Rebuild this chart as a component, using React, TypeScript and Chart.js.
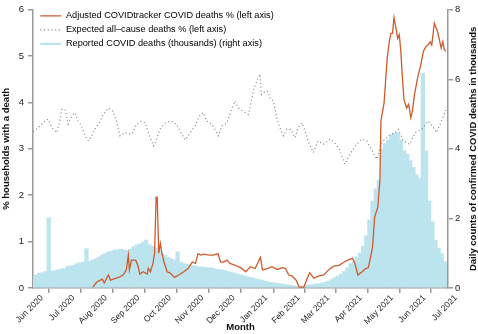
import { useEffect, useRef } from "react";
import { Chart, registerables } from "chart.js";

Chart.register(...registerables);

// x values are days since 1 June 2020
const monthTickDays = [0, 30, 61, 92, 122, 153, 183, 214, 245, 273, 304, 334, 365, 395];
const monthTickLabels = [
  "Jun 2020", "Jul 2020", "Aug 2020", "Sep 2020", "Oct 2020", "Nov 2020", "Dec 2020",
  "Jan 2021", "Feb 2021", "Mar 2021", "Apr 2021", "May 2021", "Jun 2021", "Jul 2021",
];

// Adjusted COVIDtracker COVID deaths % (left axis)
const redDays = [
  57, 61, 66, 68, 72, 74, 78, 83, 86, 89, 91, 92, 94, 98, 100, 102, 105, 109, 110, 112,
  114.5, 116, 117.5, 118.5, 120, 121.5, 123, 125, 128, 131, 135, 139, 144, 148, 152, 155,
  157.5, 160, 163, 168, 172, 176.5, 179, 182, 185, 188, 193, 198, 203, 207.5, 212, 217,
  219, 223.5, 228, 233, 238, 241, 244, 247, 251, 254, 258.5, 261, 264, 268, 273, 277.5,
  282, 287, 292, 297, 301.5, 305, 307, 310, 314, 317.5, 320, 321.5, 324, 326, 329, 331,
  332, 335, 338, 340, 341.5, 343, 344.5, 346, 348, 349.5, 351, 352.5, 354, 356.5, 358.5,
  360.5, 362, 364, 367, 370, 372.5, 375, 377, 379, 380.5, 383, 386, 387.5, 389.5, 391,
  392.5, 394,
];
const redPct = [
  0.02, 0.13, 0.19, 0.11, 0.28, 0.17, 0.2, 0.24, 0.28, 0.39, 0.71, 0.39, 0.6, 0.6, 0.49, 0.3,
  0.35, 0.3, 0.43, 0.35, 0.53, 0.75, 1.96, 1.96, 0.75, 0.96, 0.75, 0.56, 0.35, 0.32, 0.23,
  0.28, 0.35, 0.42, 0.56, 0.53, 0.74, 0.71, 0.73, 0.71, 0.71, 0.74, 0.56, 0.56, 0.6, 0.53,
  0.49, 0.44, 0.35, 0.46, 0.42, 0.66, 0.39, 0.42, 0.46, 0.4, 0.44, 0.42, 0.28, 0.26, 0.17,
  0.02, 0.02, 0.17, 0.33, 0.21, 0.26, 0.28, 0.39, 0.47, 0.49, 0.56, 0.61, 0.64, 0.54, 0.28,
  0.35, 0.42, 0.44, 0.6, 0.88, 1.53, 1.74, 2.31, 3.6, 3.99, 4.96, 5.31, 5.49, 5.49, 5.83,
  5.64, 5.38, 5.46, 5.1, 4.53, 4.06, 3.88, 3.96, 3.67, 3.81, 4.17, 4.53, 4.81, 5.1, 5.21,
  5.24, 5.31, 5.24, 5.71, 5.53, 5.38, 5.17, 5.31, 5.14, 5.1,
];

// Expected all-cause deaths % (left axis)
const expDays = [
  0, 5, 11.5, 14.5, 18, 22.5, 26, 27.5, 30.5, 33.5, 37, 40, 43, 46.5, 49.5, 53, 56, 59, 64,
  67, 72, 76.5, 80, 83, 88, 94, 99, 103.5, 107, 110, 115, 118, 121, 126, 132, 137, 142,
  145.5, 150, 154.5, 159.5, 162.5, 165.5, 170.5, 174.5, 177, 180, 185, 189.5, 192.5, 196,
  200.5, 205.5, 208.5, 210, 213.5, 216.5, 218, 221.5, 224.5, 226, 229.5, 232.5, 235.5, 239,
  242, 246, 250, 253, 256.5, 259.5, 262.5, 267.5, 272, 277, 283.5, 288, 293, 297.5, 302.5,
  307.5, 313.5, 318.5, 323, 328, 332.5, 339, 345.5, 348.5, 353.5, 359.5, 364.5, 371, 377,
  382, 385, 388.5, 393, 395,
];
const expPct = [
  3.37, 3.46, 3.6, 3.64, 3.46, 3.35, 3.64, 3.85, 3.85, 3.53, 3.71, 3.78, 3.6, 3.49, 3.28,
  3.17, 3.28, 3.42, 3.6, 3.74, 3.88, 3.81, 3.56, 3.28, 3.35, 3.31, 3.53, 3.6, 3.56, 3.35,
  3.06, 3.21, 3.42, 3.56, 3.6, 3.53, 3.31, 3.19, 3.35, 3.49, 3.74, 3.78, 3.6, 3.53, 3.39,
  3.28, 3.49, 3.56, 3.85, 4.03, 3.88, 3.81, 3.74, 4.03, 4.24, 4.46, 4.61, 4.17, 4.24, 4.24,
  4.1, 4.03, 3.67, 3.46, 3.28, 3.42, 3.42, 3.24, 3.46, 3.56, 3.39, 3.17, 2.92, 3.17, 3.1,
  3.21, 3.13, 2.96, 2.67, 2.89, 3.06, 3.21, 3.17, 2.99, 2.78, 3.13, 3.28, 3.35, 3.42, 3.17,
  3.1, 3.35, 3.42, 3.6, 3.46, 3.35, 3.53, 3.78, 3.9,
];

// Reported COVID deaths (thousands) (right axis)
const barDays = [
  0, 3, 6, 9, 12, 15, 18, 21, 24, 27, 30, 33, 36, 39, 42, 45, 48, 51, 54, 57, 60, 63, 66, 69,
  72, 75, 78, 81, 84, 87, 90, 93, 96, 99, 102, 105, 108, 111, 114, 117, 120, 123, 126, 129,
  132, 135, 138, 141, 144, 147, 150, 153, 156, 159, 162, 165, 168, 171, 174, 177, 180, 183,
  186, 189, 192, 195, 198, 201, 204, 207, 210, 213, 216, 219, 222, 225, 228, 231, 234, 237,
  240, 243, 246, 249, 252, 255, 258, 261, 264, 267, 270, 273, 276, 279, 282, 285, 288, 291,
  294, 297, 300, 303, 306, 309, 312, 315, 318, 321, 324, 327, 330, 333, 336, 339, 342, 345,
  348, 351, 354, 357, 360, 363, 366, 369, 372, 375, 378, 381, 384, 387, 390, 393,
];
const barThousands = [
  0.33, 0.38, 0.42, 0.44, 0.47, 2.02, 0.48, 0.5, 0.52, 0.55, 0.56, 0.62, 0.64, 0.66, 0.7,
  0.73, 0.74, 1.13, 0.76, 0.8, 0.84, 0.89, 0.95, 0.99, 1.04, 1.06, 1.09, 1.1, 1.12, 1.1,
  1.08, 1.12, 1.18, 1.24, 1.27, 1.32, 1.38, 1.25, 1.2, 1.15, 1.08, 1.0, 0.94, 0.88, 0.84,
  0.8, 1.04, 0.74, 0.7, 0.68, 0.66, 0.64, 0.63, 0.61, 0.6, 0.59, 0.58, 0.57, 0.55, 0.53,
  0.52, 0.5, 0.47, 0.45, 0.43, 0.4, 0.38, 0.35, 0.33, 0.31, 0.29, 0.26, 0.24, 0.22, 0.19,
  0.17, 0.16, 0.14, 0.13, 0.12, 0.1, 0.09, 0.08, 0.06, 0.04, 0.05, 0.06, 0.08, 0.09, 0.1,
  0.11, 0.12, 0.14, 0.16, 0.2, 0.24, 0.3, 0.34, 0.4, 0.47, 0.58, 0.7, 0.78, 0.88, 1.0, 1.2,
  1.5, 1.95, 2.5, 2.85, 3.1, 4.0, 4.15, 4.25, 4.4, 4.45, 4.47, 4.25, 3.95, 3.85, 3.66, 3.47,
  3.25, 3.15, 6.18, 3.94, 2.5, 1.9, 1.37, 1.15, 0.98, 0.75,
];

const legendLabels = [
  "Adjusted COVIDtracker COVID deaths % (left axis)",
  "Expected all\u2013cause deaths % (left axis)",
  "Reported COVID deaths (thousands) (right axis)",
];
const leftTitle = "% households with a death";
const rightTitle = "Daily counts of confirmed COVID deaths in thousands";
const xTitle = "Month";

const RED = "#cf5a2b";
const GREY = "#808080";
const BLUE = "#bce4ee";
const AXIS = "#9a9a9a";
const FONT = "'Liberation Sans', Arial, Helvetica, sans-serif";

export default function App() {
  const ref = useRef<HTMLCanvasElement>(null);

  useEffect(() => {
    if (!ref.current) return;
    Chart.defaults.font.family = FONT;

    const rightTitlePlugin = {
      id: "rightTitle",
      afterDraw(chart: any) {
        const { ctx, chartArea } = chart;
        ctx.save();
        ctx.translate(473.5, (chartArea.top + chartArea.bottom) / 2);
        ctx.rotate(-Math.PI / 2);
        ctx.font = `bold 9.5px ${FONT}`;
        ctx.fillStyle = "#111";
        ctx.textAlign = "center";
        ctx.textBaseline = "middle";
        ctx.fillText(rightTitle, 0, 0);
        ctx.restore();
      },
    };

    const legendShift = {
      id: "legendShift",
      afterLayout(chart: any) {
        const l = chart.legend;
        if (l) {
          l.left = chart.chartArea.left + 2.5;
          l.top = 6.5;
          if (l.adjustHitBoxes) l.adjustHitBoxes();
        }
      },
    };

    const chart = new Chart(ref.current, {
      type: "bar",
      data: {
        datasets: [
          {
            type: "line",
            label: legendLabels[0],
            data: redDays.map((d, i) => ({ x: d, y: redPct[i] })),
            borderColor: RED,
            borderWidth: 1.3,
            pointRadius: 0,
            tension: 0,
            yAxisID: "y",
            order: 1,
          },
          {
            type: "line",
            label: legendLabels[1],
            data: expDays.map((d, i) => ({ x: d, y: expPct[i] })),
            borderColor: GREY,
            borderWidth: 1.1,
            borderDash: [1.1, 2.6],
            pointRadius: 0,
            tension: 0,
            yAxisID: "y",
            order: 2,
          },
          {
            type: "bar",
            label: legendLabels[2],
            data: barDays.map((d, i) => ({ x: d, y: barThousands[i] })),
            backgroundColor: BLUE,
            borderWidth: 0,
            barThickness: 3.6,
            grouped: false,
            yAxisID: "y1",
            order: 3,
          },
        ] as any,
      },
      options: {
        animation: false,
        responsive: false,
        layout: { padding: { top: 8, left: 0, right: 0, bottom: 0 } },
        plugins: {
          tooltip: { enabled: false },
          legend: {
            position: "chartArea" as any,
            align: "start",
            labels: {
              usePointStyle: true,
              pointStyleWidth: 21,
              padding: 4.8,
              color: "#222",
              font: { size: 9.2, family: FONT },
              generateLabels: () => [
                { text: legendLabels[0], strokeStyle: RED, fillStyle: RED, lineWidth: 1.3, pointStyle: "line", hidden: false, datasetIndex: 0 },
                { text: legendLabels[1], strokeStyle: GREY, fillStyle: GREY, lineWidth: 1.1, lineDash: [1.1, 2.6], pointStyle: "line", hidden: false, datasetIndex: 1 },
                { text: legendLabels[2], strokeStyle: BLUE, fillStyle: BLUE, lineWidth: 2.2, pointStyle: "line", hidden: false, datasetIndex: 2 },
              ] as any,
            },
          },
        },
        scales: {
          x: {
            type: "linear",
            min: 0,
            max: 396,
            offset: false,
            afterBuildTicks: (s: any) => {
              s.ticks = monthTickDays.map((v) => ({ value: v }));
            },
            afterFit: (s: any) => {
              s.height = 46;
            },
            ticks: {
              autoSkip: false,
              minRotation: 45,
              maxRotation: 45,
              color: "#222",
              font: { size: 8.5 },
              padding: 0,
              labelOffset: 9,
              callback: (v: any) => {
                const i = monthTickDays.indexOf(Number(v));
                return i >= 0 ? monthTickLabels[i] : "";
              },
            },
            grid: { drawOnChartArea: false, drawTicks: true, tickLength: 5, color: AXIS, lineWidth: 1.5 },
            border: { display: true, color: AXIS, width: 1.5 },
            title: { display: true, text: xTitle, color: "#111", font: { size: 9.5, weight: "bold" }, padding: { top: 0, bottom: 1 } },
          },
          y: {
            type: "linear",
            position: "left",
            min: 0,
            max: 6,
            afterFit: (s: any) => {
              s.width = 33;
            },
            ticks: { stepSize: 1, color: "#222", font: { size: 9.5 }, padding: 4 },
            grid: { drawOnChartArea: false, drawTicks: true, tickLength: 5, color: AXIS, lineWidth: 1.5 },
            border: { display: true, color: AXIS, width: 1.5 },
            title: { display: true, text: leftTitle, color: "#111", font: { size: 9.5, weight: "bold" }, padding: { top: 1, bottom: 0 } },
          },
          y1: {
            type: "linear",
            position: "right",
            min: 0,
            max: 8,
            afterFit: (s: any) => {
              s.width = 30;
            },
            ticks: { stepSize: 2, color: "#222", font: { size: 9.5 }, padding: 2 },
            grid: { drawOnChartArea: false, drawTicks: true, tickLength: 5, color: AXIS, lineWidth: 1.5 },
            border: { display: true, color: AXIS, width: 1.5 },
          },
        },
      } as any,
      plugins: [rightTitlePlugin, legendShift],
    });

    return () => chart.destroy();
  }, []);

  return (
    <div style={{ position: "fixed", left: 0, top: 0, width: 478, height: 334, background: "#fff" }}>
      <canvas ref={ref} width={478} height={334} style={{ display: "block" }} />
    </div>
  );
}
